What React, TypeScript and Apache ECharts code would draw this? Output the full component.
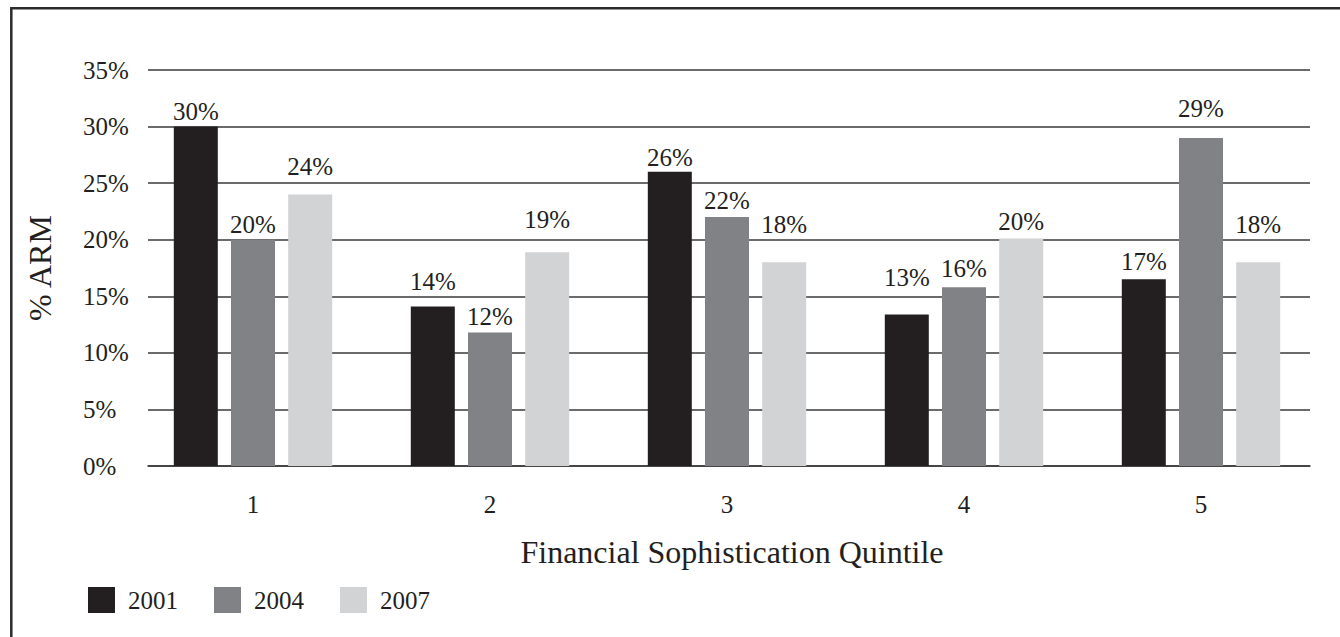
import React, { useEffect, useRef } from "react";
import * as echarts from "echarts";

const categories = ["1", "2", "3", "4", "5"];
const seriesNames = ["2001", "2004", "2007"];
const values2001 = [30.0, 14.1, 26.0, 13.4, 16.5];
const values2004 = [20.0, 11.8, 22.0, 15.8, 29.0];
const values2007 = [24.0, 18.9, 18.0, 20.1, 18.0];
const yTicks = [0, 5, 10, 15, 20, 25, 30, 35];

const colors = ["#231f20", "#808285", "#d1d3d4"];
const FONT = "Liberation Serif";
const TEXT = "#231f20";
const GRIDLINE = "#3a3a3a";

export default function App() {
  const ref = useRef<HTMLDivElement>(null);

  useEffect(() => {
    if (!ref.current) return;
    const chart = echarts.init(ref.current, undefined, { renderer: "svg" });
    const labelDistances = [
      [3, 12, 2, 24, 5],
      [3, 3, 4, 6, 17],
      [15, 20, 25, 5, 25],
    ];
    const all = [values2001, values2004, values2007];
    const series = all.map((vals, si) => ({
      name: seriesNames[si],
      type: "bar",
      xAxisIndex: 1,
      yAxisIndex: 1,
      barWidth: 44,
      barGap: "30%",
      itemStyle: { color: colors[si] },
      data: vals.map((v, i) => ({
        value: v,
        label: { distance: labelDistances[si][i] },
      })),
      label: {
        show: true,
        position: "top",
        fontFamily: FONT,
        fontSize: 25,
        color: TEXT,
        formatter: (p: any) => Math.round(p.value) + "%",
      },
    }));

    const yMin = yTicks[0];
    const yMax = yTicks[yTicks.length - 1];

    chart.setOption({
      animation: false,
      backgroundColor: "#ffffff",
      textStyle: { fontFamily: FONT },
      graphic: [
        {
          type: "rect",
          shape: { x: 11.3, y: 8.3, width: 1500, height: 800 },
          style: { fill: "none", stroke: "#2b2b2b", lineWidth: 2.5 },
          silent: true,
        },
      ],
      grid: [
        { left: 148, right: 30, top: 70, bottom: 171 },
        { left: 134.5, right: 20.5, top: 70, bottom: 171 },
      ],
      legend: {
        left: 88,
        top: 587,
        padding: 0,
        itemWidth: 27,
        itemHeight: 26,
        itemGap: 36,
        icon: "rect",
        data: seriesNames,
        textStyle: {
          fontFamily: FONT,
          fontSize: 25,
          color: TEXT,
          padding: [0, 0, 0, 8],
        },
      },
      xAxis: [
        {
          type: "category",
          gridIndex: 0,
          data: categories,
          name: "Financial Sophistication Quintile",
          nameLocation: "middle",
          nameGap: 70,
          nameTextStyle: { fontFamily: FONT, fontSize: 32, color: TEXT, padding: [0, 0, 0, 6] },
          axisLine: { show: true, lineStyle: { color: GRIDLINE, width: 1.5 } },
          axisTick: { show: false },
          axisLabel: { show: false },
        },
        {
          type: "category",
          gridIndex: 1,
          data: categories,
          axisLine: { show: false },
          axisTick: { show: false },
          axisLabel: { fontFamily: FONT, fontSize: 25, color: TEXT, margin: 26 },
        },
      ],
      yAxis: [
        {
          type: "value",
          gridIndex: 0,
          min: yMin,
          max: yMax,
          interval: 5,
          name: "% ARM",
          nameLocation: "middle",
          nameGap: 92,
          nameTextStyle: { fontFamily: FONT, fontSize: 32, color: TEXT },
          axisLine: { show: false },
          axisTick: { show: false },
          splitLine: { show: true, lineStyle: { color: GRIDLINE, width: 1.5 } },
          axisLabel: {
            fontFamily: FONT,
            fontSize: 25,
            color: TEXT,
            align: "left",
            margin: 65,
            formatter: (v: number) => v + "%",
          },
        },
        {
          type: "value",
          gridIndex: 1,
          min: yMin,
          max: yMax,
          interval: 5,
          axisLine: { show: false },
          axisTick: { show: false },
          splitLine: { show: false },
          axisLabel: { show: false },
        },
      ],
      series,
    });
    return () => chart.dispose();
  }, []);

  return (
    <div
      ref={ref}
      style={{ position: "absolute", left: 0, top: 0, width: 1340, height: 637 }}
    />
  );
}
